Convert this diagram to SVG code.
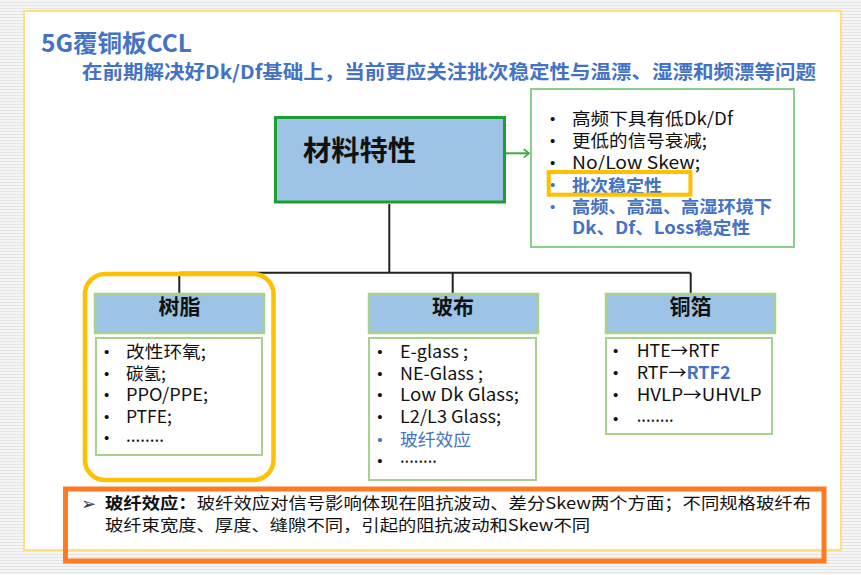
<svg xmlns="http://www.w3.org/2000/svg" width="861" height="575" viewBox="0 0 861 575">
<defs>
<pattern id="stripes" width="4" height="3" patternUnits="userSpaceOnUse">
<rect width="4" height="3" fill="#f5f5f5"/><rect y="2" width="4" height="1" fill="#e4e4e4"/>
</pattern>
<marker id="chev" viewBox="0 0 7 10" refX="6" refY="5" markerWidth="7" markerHeight="10" orient="auto" markerUnits="userSpaceOnUse">
<path d="M0.8,0.8 L6,5 L0.8,9.2" fill="none" stroke="#3CAA3C" stroke-width="1.6"/>
</marker>
<style>
text{font-family:'Noto Sans CJK SC','Noto Sans',sans-serif}
.blk{fill:#111}
.blue{fill:#4472C4}
.b{font-weight:bold}
.li{font-size:17.5px}
text.bul{font-family:'Liberation Sans',sans-serif;font-size:15px;text-anchor:middle}
.hdr{fill:#9DC3E6;stroke:#A9D18E;stroke-width:2.5}
.lst{fill:#fff;stroke:#A9D18E;stroke-width:2}
.hdt{font-size:21px;font-weight:bold;fill:#111;text-anchor:middle}
.conn{stroke:#222;stroke-width:2;fill:none}
</style>
</defs>
<rect width="861" height="575" fill="url(#stripes)"/>
<rect x="24" y="11" width="817" height="539" fill="#fff" stroke="#FFE07A" stroke-width="2"/>

<g id="title">
<text x="41" y="52" font-size="24" font-weight="bold" class="blue" textLength="151" lengthAdjust="spacingAndGlyphs">5G覆铜板CCL</text>
<text x="82" y="79" font-size="19" font-weight="bold" class="blue" textLength="734" lengthAdjust="spacingAndGlyphs">在前期解决好Dk/Df基础上，当前更应关注批次稳定性与温漂、湿漂和频漂等问题</text>
</g>

<g id="connectors">
<path class="conn" d="M389.3,204 V272.7 M179.3,272.7 H690.7 M179.3,272.7 V293 M452.7,272.7 V293 M690.7,272.7 V293"/>
<line x1="497.7" y1="153.3" x2="529" y2="153.3" stroke="#3CAA3C" stroke-width="2" marker-end="url(#chev)"/>
</g>

<g id="node-main">
<rect x="275.5" y="117.5" width="229" height="84.5" fill="#9DC3E6" stroke="#1E9E2E" stroke-width="3"/>
<text x="303" y="161" font-size="28" font-weight="bold" class="blk" textLength="113" lengthAdjust="spacingAndGlyphs">材料特性</text>
</g>

<g id="node-props">
<rect x="531" y="89" width="263" height="158" fill="#fff" stroke="#8CCF8C" stroke-width="2"/>
<text x="552.7" y="123.5" class="bul blk">•</text>
<text x="552.7" y="146" class="bul blk">•</text>
<text x="552.7" y="167.5" class="bul blk">•</text>
<text x="552.7" y="190" class="bul blue">•</text>
<text x="552.7" y="212" class="bul blue">•</text>
<text x="572" y="124.8" class="li blk" textLength="161" lengthAdjust="spacingAndGlyphs">高频下具有低Dk/Df</text>
<text x="572" y="147.2" class="li blk" textLength="135" lengthAdjust="spacingAndGlyphs">更低的信号衰减;</text>
<text x="572" y="168.8" class="li blk" textLength="128" lengthAdjust="spacingAndGlyphs">No/Low Skew;</text>
<text x="572" y="191.5" class="li blue b" textLength="90" lengthAdjust="spacingAndGlyphs">批次稳定性</text>
<text x="572" y="213.2" class="li blue b" textLength="200" lengthAdjust="spacingAndGlyphs">高频、高温、高湿环境下</text>
<text x="572" y="233.8" class="li blue b" textLength="178" lengthAdjust="spacingAndGlyphs">Dk、Df、Loss稳定性</text>
<rect x="548.7" y="172" width="141.7" height="22.7" fill="none" stroke="#FFC000" stroke-width="4"/>
</g>

<g id="node-resin">
<rect x="85" y="274" width="188.5" height="206" rx="20" fill="none" stroke="#FFC000" stroke-width="4.5"/>
<rect x="95" y="294" width="169" height="39" class="hdr"/>
<text x="179.5" y="314" class="hdt">树脂</text>
<rect x="96" y="338" width="166" height="117" class="lst"/>
<text x="106.7" y="357" class="bul blk">•</text>
<text x="106.7" y="378.5" class="bul blk">•</text>
<text x="106.7" y="400" class="bul blk">•</text>
<text x="106.7" y="421.5" class="bul blk">•</text>
<text x="106.7" y="443" class="bul blk">•</text>
<text x="126" y="358" class="li blk" textLength="80" lengthAdjust="spacingAndGlyphs">改性环氧;</text>
<text x="126" y="379.7" class="li blk">碳氢;</text>
<text x="126" y="401.4" class="li blk" textLength="82" lengthAdjust="spacingAndGlyphs">PPO/PPE;</text>
<text x="126" y="423.1" class="li blk" textLength="46" lengthAdjust="spacingAndGlyphs">PTFE;</text>
<text x="126" y="442" class="li blk" textLength="38" lengthAdjust="spacingAndGlyphs">........</text>
</g>

<g id="node-glass">
<rect x="369" y="294" width="169" height="39" class="hdr"/>
<text x="453" y="314" class="hdt">玻布</text>
<rect x="369" y="338" width="167" height="142" class="lst"/>
<text x="380" y="357" class="bul blk">•</text>
<text x="380" y="378.5" class="bul blk">•</text>
<text x="380" y="400" class="bul blk">•</text>
<text x="380" y="421.5" class="bul blk">•</text>
<text x="380" y="444.5" class="bul blue">•</text>
<text x="380" y="466" class="bul blk">•</text>
<text x="400" y="358" class="li blk" textLength="68" lengthAdjust="spacingAndGlyphs">E-glass ;</text>
<text x="400" y="379.7" class="li blk" textLength="83" lengthAdjust="spacingAndGlyphs">NE-Glass ;</text>
<text x="400" y="401.4" class="li blk" textLength="119" lengthAdjust="spacingAndGlyphs">Low Dk Glass;</text>
<text x="400" y="423.1" class="li blk" textLength="101" lengthAdjust="spacingAndGlyphs">L2/L3 Glass;</text>
<text x="400" y="446" class="li blue" textLength="71" lengthAdjust="spacingAndGlyphs">玻纤效应</text>
<text x="400" y="463" class="li blk" textLength="37" lengthAdjust="spacingAndGlyphs">........</text>
</g>

<g id="node-copper">
<rect x="606" y="294" width="169" height="39" class="hdr"/>
<text x="690.5" y="314" class="hdt">铜箔</text>
<rect x="606" y="338" width="166" height="96" class="lst"/>
<text x="615.7" y="356" class="bul blk">•</text>
<text x="615.7" y="378" class="bul blk">•</text>
<text x="615.7" y="399.5" class="bul blk">•</text>
<text x="615.7" y="423.5" class="bul blk">•</text>
<text x="636.7" y="357" class="li blk" textLength="83" lengthAdjust="spacingAndGlyphs">HTE→RTF</text>
<text x="636.7" y="379" class="li blk" textLength="94" lengthAdjust="spacingAndGlyphs">RTF→<tspan class="blue b">RTF2</tspan></text>
<text x="636.7" y="400.5" class="li blk" textLength="125" lengthAdjust="spacingAndGlyphs">HVLP→UHVLP</text>
<text x="636.7" y="421.5" class="li blk" textLength="37" lengthAdjust="spacingAndGlyphs">........</text>
</g>

<g id="node-note">
<rect x="65.5" y="489" width="758.5" height="72" fill="none" stroke="#FF7B23" stroke-width="5"/>
<text x="81" y="510" font-size="18" fill="#2F3450" style="font-family:'DejaVu Sans',sans-serif">➢</text>
<text x="105" y="509" font-size="16" class="blk" textLength="706" lengthAdjust="spacingAndGlyphs"><tspan class="b">玻纤效应：</tspan>玻纤效应对信号影响体现在阻抗波动、差分Skew两个方面；不同规格玻纤布</text>
<text x="105" y="531" font-size="16" class="blk" textLength="485" lengthAdjust="spacingAndGlyphs">玻纤束宽度、厚度、缝隙不同，引起的阻抗波动和Skew不同</text>
</g>
</svg>
